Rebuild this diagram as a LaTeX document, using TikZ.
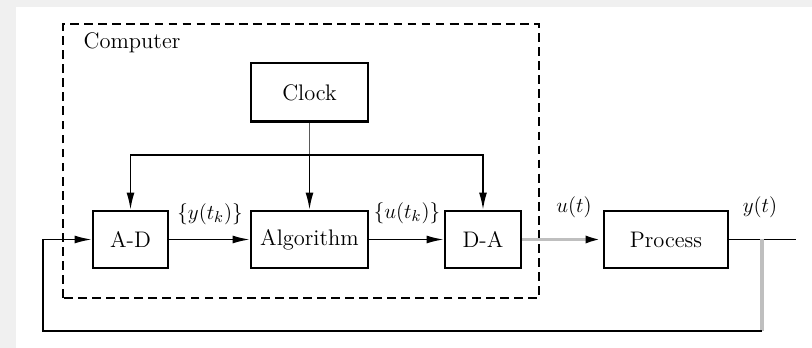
\documentclass[tikz,border=0pt]{standalone}
\usepackage{tikz}
\usetikzlibrary{arrows.meta}
\usetikzlibrary{positioning}
\usetikzlibrary{calc}
\tikzstyle{block}=[draw,line width=1.7pt,minimum height=1.14cm,inner sep=1pt]
\tikzstyle{sig}=[-{Latex[length=3.4mm,width=1.6mm]}]
\tikzstyle{gsig}=[gray!50,line width=1.8pt]

\begin{document}
\begin{tikzpicture}[line width=0.8pt,font=\fontsize{12.8}{15}\selectfont]
\fill[black!6] (0,0) rectangle (16.24,6.96);
\fill[white] (0.32,0) rectangle (16.24,6.82);
\useasboundingbox (0,0) rectangle (16.24,6.96);

\node [block,minimum width=1.5cm] (ad) at (2.61,2.17) {A-D};
\node [block,minimum width=2.34cm] (alg) at (6.19,2.17) {Algorithm};
\node [block,minimum width=1.52cm] (da) at (9.66,2.17) {D-A};
\node [block,minimum width=2.48cm] (proc) at (13.32,2.17) {Process};
\node [block,minimum width=2.34cm,minimum height=1.18cm] (clk) at (6.19,5.11) {Clock};

% computer border
\draw [line width=1pt,dash pattern=on 5pt off 3pt] (1.26,1.0) rectangle (10.78,6.48);
\node [anchor=west,inner sep=0pt] (comp) at (1.66,6.1) {Computer};

% clock bus
\coordinate (bus) at (6.19,3.86);
\draw [gray!70!black] (clk.south) -- (bus);
\draw [sig] (bus) -| (ad.north);
\draw [sig] (bus) -| (da.north);
\draw [sig] (bus) -- (alg.north);

% signal path
\draw [sig] (ad) -- (alg);
\draw [sig] (alg) -- (da);
\draw [gsig,-{Latex[length=3.4mm,width=1.6mm,black]}] (da) -- (proc);

% output and feedback
\coordinate (out) at (15.92,2.17);
\coordinate (tap) at (15.24,2.17);
\coordinate (fb) at (15.24,0.34);
\coordinate (fl) at (0.86,0.34);
\draw (proc.east) -- (out);
\draw [gsig] (tap) -- (fb);
\draw [sig] (fb) -- (fl) |- (ad.west);

\node at (ad) [xshift=1.59cm,yshift=0.51cm] {$\{y(t_k)\}$};
\node at (da) [xshift=-1.52cm,yshift=0.53cm] {$\{u(t_k)\}$};
\node at (da) [xshift=1.82cm,yshift=0.65cm] {$u(t)$};
\node at (proc) [xshift=1.88cm,yshift=0.65cm] {$y(t)$};

\end{tikzpicture}
\end{document}
